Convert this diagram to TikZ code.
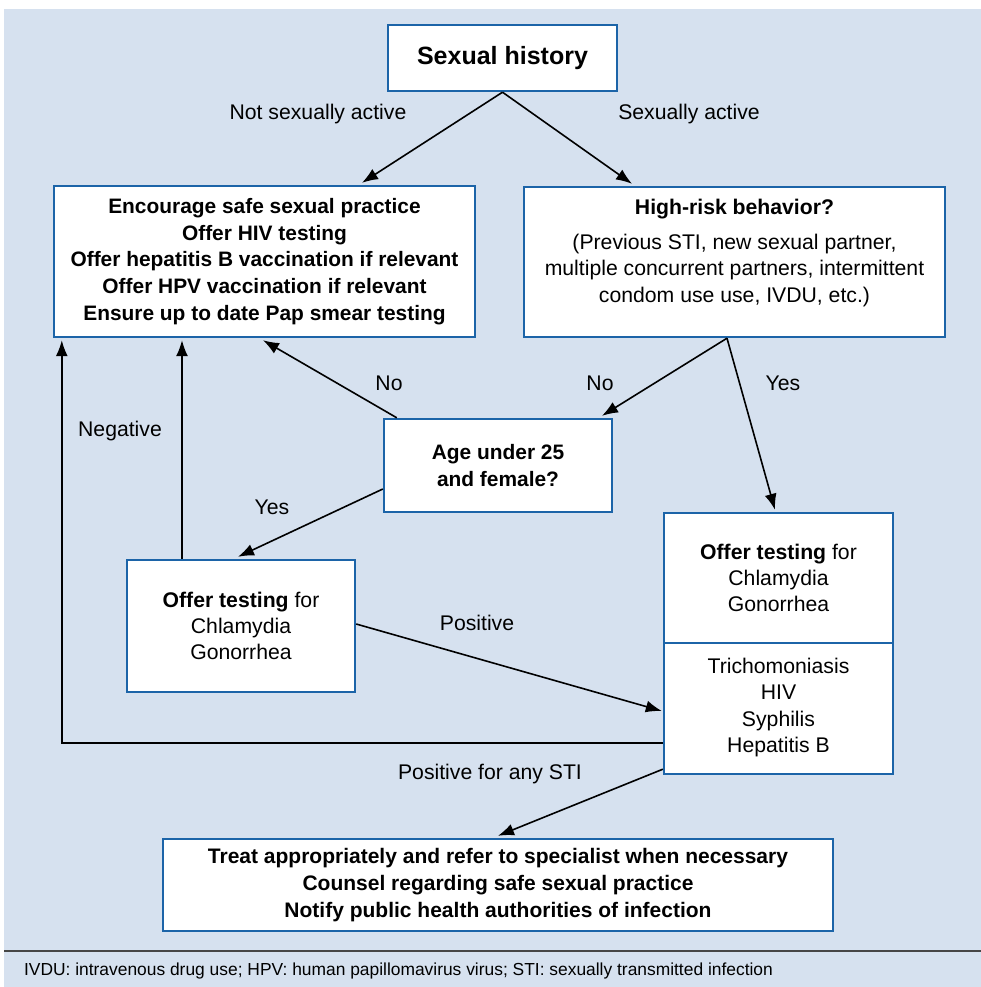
\documentclass[tikz,border=0pt]{standalone}
\usepackage{fontspec}
\setmainfont{Liberation Sans}
\usetikzlibrary{arrows.meta,calc,positioning}
\definecolor{panelblue}{RGB}{214,225,239}
\definecolor{boxblue}{RGB}{28,100,168}
\definecolor{rulegray}{RGB}{70,70,70}
\tikzset{
  box/.style={draw=boxblue, line width=1.2pt, fill=white, align=center, inner sep=0pt},
  txt/.style={font=\fontsize{10.6}{13.2}\selectfont, align=center},
  btxt/.style={font=\fontsize{10.45}{13.4}\selectfont\bfseries, align=center},
  flow/.style={-{Latex[length=8pt,width=6pt]}, line width=0.8pt},
  lbl/.style={font=\fontsize{10.6}{13}\selectfont}
}

\begin{document}
\begin{tikzpicture}[x=0.5pt,y=-0.5pt]
        \useasboundingbox (0,0) rectangle (981,987);
        % panel
        \fill[panelblue] (4,9) rectangle (981,987);
        \draw[rulegray, line width=0.6pt] (4,951) -- (981,951);
        % boxes
        \node[box, minimum width=114.5pt, minimum height=33pt, font=\fontsize{12.5}{15}\selectfont\bfseries] (hist) at (502.5,58) {Sexual history};
        \node[box, btxt, minimum width=210.5pt, minimum height=75.5pt] (safe) at (264.5,261.5) {Encourage safe sexual practice\\Offer HIV testing\\Offer hepatitis B vaccination if relevant\\Offer HPV vaccination if relevant\\Ensure up to date Pap smear testing};
        \node[box, minimum width=210.5pt, minimum height=75pt] (risk) at (734.5,262) {};
        \node[txt, anchor=north, inner sep=0pt] (risktxt) at ([yshift=-6.5pt]risk.north) {\textbf{High-risk behavior?}\\[4.3pt](Previous STI, new sexual partner,\\multiple concurrent partners, intermittent\\condom use use, IVDU, etc.)};
        \node[box, btxt, minimum width=114pt, minimum height=46.5pt] (age) at (498,465.5) {Age under 25\\and female?};
        \node[box, txt, minimum width=114pt, minimum height=66pt] (test1) at (241,626) {\textbf{Offer testing} for\\Chlamydia\\Gonorrhea};
        \node[box, txt, minimum width=114.5pt, minimum height=65pt] (test2) at (778.5,578) {\textbf{Offer testing} for\\Chlamydia\\Gonorrhea};
        \node[box, txt, minimum width=114.5pt, minimum height=65.5pt, text depth=3pt] (extra) at (778.5,708.5) {Trichomoniasis\\HIV\\Syphilis\\Hepatitis B};
        \node[box, minimum width=335pt, minimum height=46pt, align=center, font=\fontsize{10.5}{13.5}\selectfont\bfseries] (treat) at (498,885) {Treat appropriately and refer to specialist when necessary\\Counsel regarding safe sexual practice\\Notify public health authorities of infection};
        % arrows
        \draw[flow] (hist.south) -- ([xshift=48.75pt,yshift=1pt]safe.north);
        \draw[flow] (hist.south) -- ([xshift=-51.25pt,yshift=1pt]risk.north);
        \draw[flow] ([xshift=-3.75pt]risk.south) -- ([xshift=52pt,yshift=1pt]age.north);
        \draw[flow] ([xshift=-3.75pt]risk.south) -- ([xshift=-1.75pt,yshift=1pt]test2.north);
        \draw[flow] ([xshift=7pt]age.north west) -- ([xshift=-0.75pt,yshift=-1pt]safe.south);
        \draw[flow] ([yshift=-11.75pt]age.west) -- ([xshift=-1.5pt,yshift=1pt]test1.north);
        \draw[flow] ([xshift=-29.5pt]test1.north) -- ([xshift=-29.5pt,yshift=-1pt]test1.north |- safe.south);
        \draw[flow] ([yshift=-17.25pt]extra.west) -| ([xshift=4.5pt,yshift=-1pt]safe.south west);
        \draw[flow] ([yshift=1pt]test1.east) -- ([xshift=-0.5pt,yshift=-1.25pt]extra.west);
        \draw[flow] ([yshift=3pt]extra.south west) -- ([yshift=1pt]treat.north);
        % labels
        \node[lbl] (l1) at (318,114) {Not sexually active};
        \node[lbl] (l2) at (689,114) {Sexually active};
        \node[lbl] (l3) at (600,383) {No};
        \node[lbl] (l4) at (783,383) {Yes};
        \node[lbl] (l5) at (389,383) {No};
        \node[lbl] (l6) at (272,507) {Yes};
        \node[lbl] (l7) at (120,431) {Negative};
        \node[lbl] (l8) at (477,623) {Positive};
        \node[lbl] (l9) at (490,774) {Positive for any STI};
        % footnote
        \node[anchor=west, font=\fontsize{8.7}{10}\selectfont] (note) at (17,971) {IVDU: intravenous drug use; HPV: human papillomavirus virus; STI: sexually transmitted infection};
      \end{tikzpicture}
\end{document}
